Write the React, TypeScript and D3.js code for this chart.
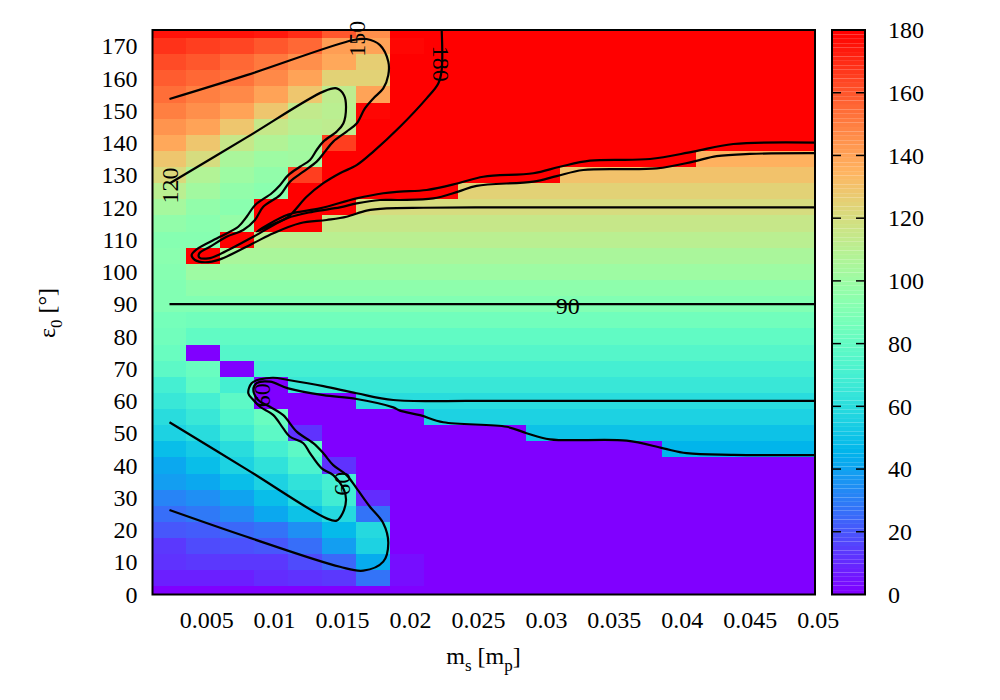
import { useEffect, useRef } from 'react'
import * as d3 from 'd3'

// star mass on the x axis, one column per grid point
const masses = [
    0.0025, 0.005, 0.0075, 0.01, 0.0125, 0.015, 0.0175, 0.02, 0.0225, 0.025,
    0.0275, 0.03, 0.0325, 0.035, 0.0375, 0.04, 0.0425, 0.045, 0.0475, 0.05,
]
const epsilons = [
    0, 5, 10, 15, 20, 25, 30, 35, 40, 45, 50, 55, 60, 65, 70, 75, 80, 85,
    90, 95, 100, 105, 110, 115, 120, 125, 130, 135, 140, 145, 150, 155, 160, 165, 170, 175,
]

// final obliquity for each initial obliquity row
const row0 = [0, 0, 0, 0, 0, 0, 0, 0, 0, 0, 0, 0, 0, 0, 0, 0, 0, 0, 0, 0]
const row5 = [8, 8, 8, 10, 12, 14, 28, 4, 0, 0, 0, 0, 0, 0, 0, 0, 0, 0, 0, 0]
const row10 = [12, 14, 14, 14, 18, 24, 43, 4, 0, 0, 0, 0, 0, 0, 0, 0, 0, 0, 0, 0]
const row15 = [14, 17, 19, 21, 26, 38, 55, 0, 0, 0, 0, 0, 0, 0, 0, 0, 0, 0, 0, 0]
const row20 = [20, 22, 25, 28, 35, 47, 58, 0, 0, 0, 0, 0, 0, 0, 0, 0, 0, 0, 0, 0]
const row25 = [26, 29, 33, 42, 50, 58, 28, 0, 0, 0, 0, 0, 0, 0, 0, 0, 0, 0, 0, 0]
const row30 = [32, 35, 40, 48, 58, 68, 10, 0, 0, 0, 0, 0, 0, 0, 0, 0, 0, 0, 0, 0]
const row35 = [38, 42, 48, 55, 62, 70, 0, 0, 0, 0, 0, 0, 0, 0, 0, 0, 0, 0, 0, 0]
const row40 = [42, 48, 55, 62, 72, 12, 0, 0, 0, 0, 0, 0, 0, 0, 0, 0, 0, 0, 0, 0]
const row45 = [48, 53, 60, 70, 78, 0, 0, 0, 0, 0, 0, 0, 0, 0, 0, 45, 45, 45, 45, 45]
const row50 = [55, 60, 68, 78, 12, 0, 0, 0, 0, 0, 0, 50, 50, 50, 50, 50, 50, 50, 50, 50]
const row55 = [60, 66, 74, 82, 0, 0, 0, 0, 55, 55, 55, 55, 55, 55, 55, 55, 55, 55, 55, 55]
const row60 = [65, 70, 78, 0, 0, 0, 60, 60, 60, 60, 60, 60, 60, 60, 60, 60, 60, 60, 60, 60]
const row65 = [70, 80, 70, 0, 65, 65, 65, 65, 65, 65, 65, 65, 65, 65, 65, 65, 65, 65, 65, 65]
const row70 = [78, 82, 0, 70, 70, 70, 70, 70, 70, 70, 70, 70, 70, 70, 70, 70, 70, 70, 70, 70]
const row75 = [82, 0, 75, 75, 75, 75, 75, 75, 75, 75, 75, 75, 75, 75, 75, 75, 75, 75, 75, 75]
const row80 = [85, 80, 80, 80, 80, 80, 80, 80, 80, 80, 80, 80, 80, 80, 80, 80, 80, 80, 80, 80]
const row85 = [87, 85, 85, 85, 85, 85, 85, 85, 85, 85, 85, 85, 85, 85, 85, 85, 85, 85, 85, 85]
const row90 = [90, 90, 90, 90, 90, 90, 90, 90, 90, 90, 90, 90, 90, 90, 90, 90, 90, 90, 90, 90]
const row95 = [90, 95, 95, 95, 95, 95, 95, 95, 95, 95, 95, 95, 95, 95, 95, 95, 95, 95, 95, 95]
const row100 = [92, 100, 100, 100, 100, 100, 100, 100, 100, 100, 100, 100, 100, 100, 100, 100, 100, 100, 100, 100]
const row105 = [93, 180, 105, 105, 105, 105, 105, 105, 105, 105, 105, 105, 105, 105, 105, 105, 105, 105, 105, 105]
const row110 = [92, 92, 180, 110, 110, 110, 110, 110, 110, 110, 110, 110, 110, 110, 110, 110, 110, 110, 110, 110]
const row115 = [97, 94, 98, 180, 180, 115, 115, 115, 115, 115, 115, 115, 115, 115, 115, 115, 115, 115, 115, 115]
const row120 = [104, 96, 93, 180, 180, 180, 120, 120, 120, 120, 120, 120, 120, 120, 120, 120, 120, 120, 120, 120]
const row125 = [110, 102, 96, 94, 180, 180, 180, 180, 180, 125, 125, 125, 125, 125, 125, 125, 125, 125, 125, 125]
const row130 = [122, 108, 100, 96, 165, 180, 180, 180, 180, 180, 180, 180, 130, 130, 130, 130, 130, 130, 130, 130]
const row135 = [128, 120, 105, 100, 102, 180, 180, 180, 180, 180, 180, 180, 180, 180, 180, 180, 135, 135, 135, 135]
const row140 = [138, 128, 115, 108, 103, 165, 180, 180, 180, 180, 180, 180, 180, 180, 180, 180, 180, 180, 180, 180]
const row145 = [144, 140, 128, 115, 110, 112, 180, 180, 180, 180, 180, 180, 180, 180, 180, 180, 180, 180, 180, 180]
const row150 = [150, 146, 140, 128, 113, 110, 178, 180, 180, 180, 180, 180, 180, 180, 180, 180, 180, 180, 180, 180]
const row155 = [154, 150, 147, 140, 128, 112, 140, 180, 180, 180, 180, 180, 180, 180, 180, 180, 180, 180, 180, 180]
const row160 = [158, 155, 152, 147, 140, 125, 125, 180, 180, 180, 180, 180, 180, 180, 180, 180, 180, 180, 180, 180]
const row165 = [162, 159, 155, 151, 145, 138, 126, 179, 180, 180, 180, 180, 180, 180, 180, 180, 180, 180, 180, 180]
const row170 = [168, 165, 164, 160, 155, 142, 140, 178, 180, 180, 180, 180, 180, 180, 180, 180, 180, 180, 180, 180]
const row175 = [175, 175, 175, 174, 170, 160, 145, 179, 180, 180, 180, 180, 180, 180, 180, 180, 180, 180, 180, 180]
const grid = [
    row0, row5, row10, row15, row20, row25, row30, row35, row40, row45, row50, row55,
    row60, row65, row70, row75, row80, row85, row90, row95, row100, row105, row110, row115,
    row120, row125, row130, row135, row140, row145, row150, row155, row160, row165, row170, row175,
]

// contour lines as [mass, epsilon]
const contour30: [number, number][] = [
    [.0025, 26.2], [.00818, 17.9], [.01504, 8.6], [.01676, 7.4], [.01823, 10.2], [.0186, 15.9], [.01823, 22.1],
    [.01725, 27.2], [.01627, 32.9], [.01553, 37], [.01455, 40.1], [.01382, 43.8], [.01308, 46.9], [.01186, 50.5],
    [.01087, 55.6], [.00989, 58.2], [.00903, 60.3], [.00867, 63.4], [.00891, 65.5], [.00989, 66], [.01124, 63.9],
    [.01382, 61.8], [.01627, 60.6], [.01897, 58], [.01946, 57], [.02093, 55.6], [.02265, 53.4], [.02731, 52],
    [.02878, 50], [.0305, 48.1], [.03614, 47.7], [.03884, 45.3], [.04055, 43.8], [.044, 43.3], [.05, 43.2],
]
const contour60: [number, number][] = [
    [.0025, 53.4], [.00818, 38.8], [.01406, 23.6], [.0148, 22.9], [.01524, 25.2], [.01549, 29.3], [.01534, 32.4],
    [.01455, 37], [.0137, 39.1], [.01284, 43.8], [.01235, 46.9], [.01137, 48.9], [.01087, 51.5], [.01014, 55.6],
    [.00916, 58.2], [.00867, 60.3], [.0083, 62.4], [.00854, 65.5], [.00916, 66.7], [.01014, 67.2], [.01124, 66.5],
    [.01382, 64.6], [.01627, 62.4], [.01897, 60.3], [.02461, 60], [.03, 60], [.035, 60], [.04, 60], [.045, 60], [.05, 60],
]
const contour90: [number, number][] = [[.0025, 90], [.05, 90]]
const contour120: [number, number][] = [
    [.0025, 127.4], [.00818, 141.7], [.01382, 155.9], [.0148, 156.9], [.01534, 154.8], [.01549, 151.2], [.01529, 146],
    [.0148, 143.5], [.01382, 140.4], [.01333, 137.8], [.01284, 134.7], [.0121, 132.6], [.01124, 130], [.01063, 126.9],
    [.01002, 124.4], [.00879, 120.7], [.00818, 117.1], [.00756, 114], [.00621, 110.9], [.0045, 107], [.00413, 105.2],
    [.00437, 103.7], [.00511, 103], [.00621, 103.9], [.00867, 108.9], [.01014, 112], [.0121, 115.1], [.01406, 116.1],
    [.01553, 117.1], [.017, 119], [.01848, 119.7], [.02118, 119.9], [.025, 120], [.03, 120], [.035, 120], [.04, 120], [.045, 120], [.05, 120],
]
const contour150: [number, number][] = [
    [.0025, 153.6], [.00818, 161], [.01603, 171.9], [.017, 172.2], [.01799, 170.3], [.0186, 165.2], [.0186, 161],
    [.01823, 156.9], [.0175, 153.8], [.01688, 150.7], [.01627, 146], [.01553, 143.5], [.01455, 140.4], [.01394, 137.3],
    [.01333, 134.2], [.01235, 131.1], [.01137, 128], [.01063, 123.8], [.0094, 120.2], [.00879, 116.1], [.00793, 113],
    [.0067, 110.9], [.00548, 107.8], [.00469, 105.75], [.00469, 104.5], [.00536, 104.2], [.00621, 105.5], [.00867, 110.9],
    [.01112, 116.6], [.01308, 118.7], [.01504, 120], [.01627, 121.25], [.01799, 122.3], [.01946, 122.3], [.02191, 122.8],
    [.02375, 124.9], [.0251, 126.7], [.02927, 128], [.03099, 129.7], [.03295, 131.6], [.03835, 132.1], [.04104, 134.2],
    [.04276, 135.9], [.04521, 136.6], [.05, 136.8],
]
const contour180: [number, number][] = [
    [.02253, 175], [.02253, 162.6], [.02228, 158.4], [.02142, 153.8], [.01946, 145], [.0175, 137.3], [.01627, 133.1],
    [.01504, 130.6], [.01382, 127.5], [.01259, 123.3], [.01124, 117.1], [.01014, 114.8], [.00891, 112.5], [.01124, 117.8],
    [.01357, 119.7], [.01627, 122.8], [.01823, 124.4], [.01946, 124.9], [.02142, 125.4], [.02375, 127.5], [.02559, 129.5],
    [.02927, 130.6], [.03123, 132.6], [.03344, 134.5], [.03786, 135], [.04104, 137.3], [.04399, 139.65], [.05, 140.1],
]
const contours = [contour30, contour60, contour90, contour120, contour150, contour180]

const contourLabels = ['60', '60', '90', '120', '150', '180']
const contourLabelMass = [.00931, .0152, .0318, .00255, .0163, .0225]
const contourLabelEps = [61.8, 34.3, 89.5, 126.8, 172.3, 164.5]
const contourLabelAngle = [-90, -90, 0, -90, -90, 90]

const xTicks = [.005, .01, .015, .02, .025, .03, .035, .04, .045, .05]
const yTicks = d3.range(0, 180, 10)
const barTicks = [0, 20, 40, 60, 80, 100, 120, 140, 160, 180]

const FONT = '"Liberation Serif", serif'
const FONT_SIZE = 24

// gnuplot's default rainbow: rgbformulae 33,13,10
function rainbow(t: number) {
    const r = Math.min(1, Math.abs(2 * t - 0.5))
    const g = Math.sin(Math.PI * t)
    const b = Math.cos((Math.PI * t) / 2)
    return d3.rgb(r * 255, g * 255, b * 255).formatHex()
}

export default function App() {
    const svgRef = useRef<SVGSVGElement>(null)

    useEffect(() => {
        if (!svgRef.current) return
        const svg = d3.select(svgRef.current)
        svg.selectAll('*').remove()

        const x = d3.scaleLinear().domain([0.00125, 0.05]).range([152.5, 815])
        const y = d3.scaleLinear().domain([0, 175]).range([594.5, 30])
        const colorY = d3.scaleLinear().domain([0, 180]).range([594.5, 30])
        const levels = d3.range(128).map(i => rainbow(i / 127))
        const color = d3.scaleQuantize<string>().domain([0, 180]).range(levels)

        svg.append('defs').append('clipPath').attr('id', 'plot')
            .append('rect')
            .attr('x', x.range()[0])
            .attr('y', y.range()[1])
            .attr('width', x.range()[1] - x.range()[0])
            .attr('height', y.range()[0] - y.range()[1])

        // heatmap, each cell centred on its grid point
        const halfM = 0.00125
        const halfE = 2.5
        const cells = svg.append('g').attr('clip-path', 'url(#plot)').attr('shape-rendering', 'crispEdges')
        grid.forEach((row, i) => {
            row.forEach((v, j) => {
                cells.append('rect')
                    .attr('x', x(masses[j] - halfM))
                    .attr('y', y(epsilons[i] + halfE))
                    .attr('width', x(masses[j] + halfM) - x(masses[j] - halfM))
                    .attr('height', y(epsilons[i] - halfE) - y(epsilons[i] + halfE))
                    .attr('fill', color(v))
            })
        })

        const line = d3.line<[number, number]>()
            .x(d => x(d[0]))
            .y(d => y(d[1]))
            .curve(d3.curveCatmullRom.alpha(0.5))

        svg.append('g').selectAll('path')
            .data(contours)
            .enter()
            .append('path')
            .attr('d', d => line(d))
            .attr('fill', 'none')
            .attr('stroke', '#000')
            .attr('stroke-width', 2.2)

        contourLabels.forEach((label, i) => {
            svg.append('text')
                .attr('transform', `translate(${x(contourLabelMass[i])},${y(contourLabelEps[i])}) rotate(${contourLabelAngle[i]})`)
                .attr('text-anchor', 'middle')
                .attr('dy', '0.33em')
                .attr('font-family', FONT)
                .attr('font-size', FONT_SIZE)
                .attr('fill', '#000')
                .text(label)
        })

        // axes, gnuplot style: the pm3d surface hides the ticks of the main plot
        const xAxis = svg.append('g')
            .attr('transform', `translate(0,${y.range()[0]})`)
            .call(d3.axisBottom(x).tickValues(xTicks).tickSize(0).tickPadding(16.5).tickFormat(d => String(d)))
        const yAxis = svg.append('g')
            .attr('transform', `translate(${x.range()[0]},0)`)
            .call(d3.axisLeft(y).tickValues(yTicks).tickSize(0).tickPadding(15))
        ;[xAxis, yAxis].forEach(axis => {
            axis.select('.domain').remove()
            axis.selectAll('text').attr('font-family', FONT).attr('font-size', FONT_SIZE).attr('fill', '#000')
        })
        xAxis.selectAll('text').attr('dx', 2.7)

        svg.append('rect')
            .attr('x', x.range()[0])
            .attr('y', y.range()[1])
            .attr('width', x.range()[1] - x.range()[0])
            .attr('height', y.range()[0] - y.range()[1])
            .attr('fill', 'none')
            .attr('stroke', '#000')
            .attr('stroke-width', 2)

        // colour box
        const barLeft = 832
        const barRight = 865
        svg.append('g').selectAll('rect')
            .data(levels)
            .enter()
            .append('rect')
            .attr('x', barLeft)
            .attr('y', (_, i) => colorY((180 * (i + 1)) / 128))
            .attr('width', barRight - barLeft)
            .attr('height', colorY(0) - colorY(180 / 128))
            .attr('fill', d => d)
        const barAxis = svg.append('g')
            .attr('transform', `translate(${barRight},0)`)
            .call(d3.axisRight(colorY).tickValues(barTicks).tickSize(0).tickPadding(23))
        barAxis.select('.domain').remove()
        barAxis.selectAll('text').attr('font-family', FONT).attr('font-size', FONT_SIZE).attr('fill', '#000')
        barTicks.slice(1, -1).forEach(t => {
            svg.append('line').attr('x1', barLeft).attr('x2', barLeft + 9).attr('y1', colorY(t)).attr('y2', colorY(t)).attr('stroke', '#000').attr('stroke-width', 1.5)
            svg.append('line').attr('x1', barRight - 9).attr('x2', barRight).attr('y1', colorY(t)).attr('y2', colorY(t)).attr('stroke', '#000').attr('stroke-width', 1.5)
        })
        svg.append('rect')
            .attr('x', barLeft)
            .attr('y', colorY(180))
            .attr('width', barRight - barLeft)
            .attr('height', colorY(0) - colorY(180))
            .attr('fill', 'none')
            .attr('stroke', '#000')
            .attr('stroke-width', 2)

        // axis titles with subscripts
        const xTitle = svg.append('text')
            .attr('x', 483.5)
            .attr('y', 664)
            .attr('text-anchor', 'middle')
            .attr('font-family', FONT)
            .attr('font-size', FONT_SIZE)
        xTitle.append('tspan').text('m')
        xTitle.append('tspan').attr('dy', 7).attr('font-size', 17).text('s')
        xTitle.append('tspan').attr('dy', -7).text(' [m')
        xTitle.append('tspan').attr('dy', 7).attr('font-size', 17).text('p')
        xTitle.append('tspan').attr('dy', -7).text(']')

        const yTitle = svg.append('text')
            .attr('transform', 'translate(55,313) rotate(-90)')
            .attr('text-anchor', 'middle')
            .attr('font-family', FONT)
            .attr('font-size', FONT_SIZE)
        yTitle.append('tspan').text('ε')
        yTitle.append('tspan').attr('dy', 7).attr('font-size', 17).text('0')
        yTitle.append('tspan').attr('dy', -7).text(' [°]')
    }, [])

    return (
        <svg
            ref={svgRef}
            width={1000}
            height={700}
            style={{ position: 'absolute', left: 0, top: 0, background: '#fff' }}
        />
    )
}
